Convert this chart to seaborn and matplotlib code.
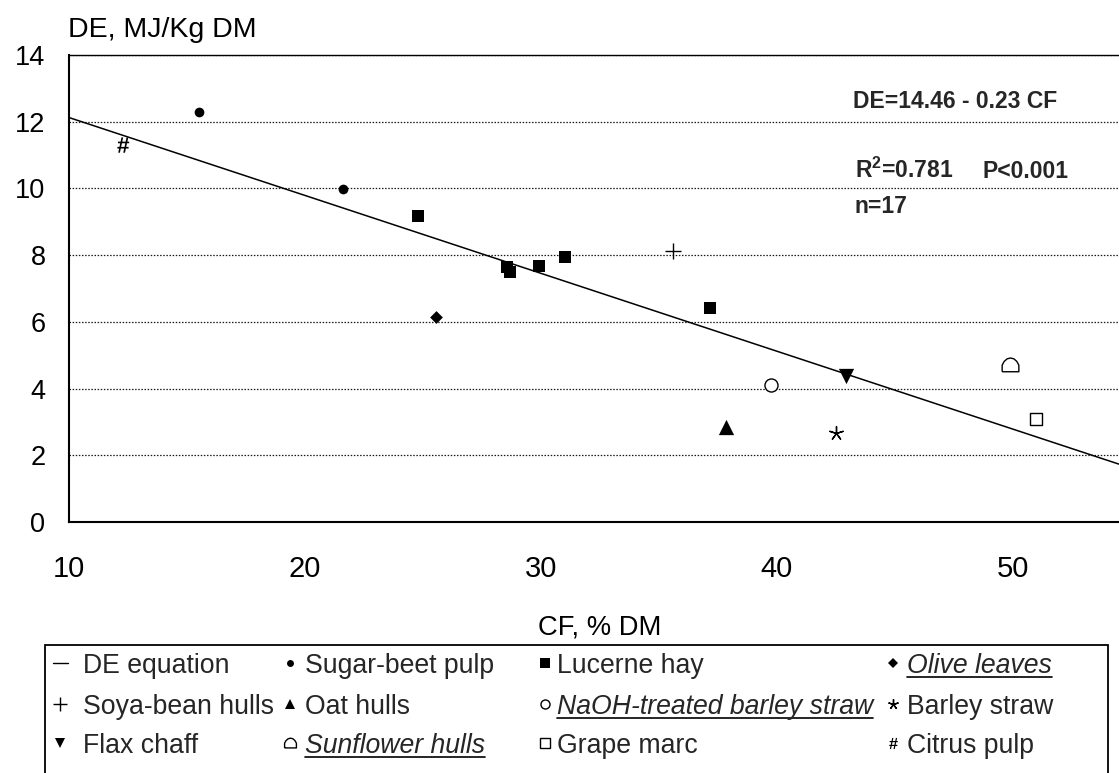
import numpy as np
import pandas as pd
import matplotlib
matplotlib.use("Agg")
import matplotlib.pyplot as plt
import seaborn as sns
from matplotlib.lines import Line2D
from matplotlib.patches import Rectangle
from matplotlib import font_manager

# ---------------- data ----------------
cf_sugar_beet = [15.5, 21.6]
de_sugar_beet = [12.30, 9.97]
cf_lucerne = [24.8, 28.55, 28.7, 29.9, 31.0, 37.15]
de_lucerne = [9.18, 7.63, 7.50, 7.67, 7.95, 6.42]
cf_olive = [25.55]
de_olive = [6.15]
cf_soya = [35.6]
de_soya = [8.13]
cf_oat = [37.85]
de_oat = [2.84]
cf_naoh = [39.75]
de_naoh = [4.11]
cf_barley = [42.5]
de_barley = [2.66]
cf_flax = [42.95]
de_flax = [4.38]
cf_sunflower = [49.9]
de_sunflower = [4.71]
cf_grape = [51.0]
de_grape = [3.08]
cf_citrus = [12.3]
de_citrus = [11.30]

eq_intercept = 14.46
eq_slope = -0.2335

x_limits = (10, 54.5)
y_limits = (0, 14)
y_ticks = [0, 2, 4, 6, 8, 10, 12, 14]
x_ticks = [10, 20, 30, 40, 50]

# ---------------- style ----------------
sns.set_theme(style="white")
plt.rcParams["font.family"] = ["Liberation Sans", "DejaVu Sans"]

names = {f.name for f in font_manager.fontManager.ttflist}
if "Liberation Sans Narrow" in names:
    bold_family = ["Liberation Sans Narrow", "Liberation Sans"]
    bold_size = 19.5
else:
    bold_family = ["Liberation Sans", "DejaVu Sans"]
    bold_size = 16.5
plt.rcParams["mathtext.fontset"] = "custom"
plt.rcParams["mathtext.rm"] = bold_family[0] + ":bold"
plt.rcParams["mathtext.bf"] = bold_family[0] + ":bold"

W, H = 1119, 773
fig = plt.figure(figsize=(W / 100, H / 100), dpi=100)
fig.patch.set_facecolor("white")


def fx(x):
    return x / W


def fy(y):
    return 1 - y / H


ax = fig.add_axes([fx(69), fy(522), fx(1119) - fx(69), fy(55) - fy(522)])
ax.set_facecolor("white")

house = [(-1, -0.75), (1, -0.75), (1, 0.05), (0.75, 0.5), (0.4, 0.8), (0, 0.9),
         (-0.4, 0.8), (-0.75, 0.5), (-1, 0.05), (-1, -0.75)]

groups = [
    # label, cf, de, marker, size(pt), face, edge, lw, legend size, italic
    ("Sugar-beet pulp", cf_sugar_beet, de_sugar_beet, "o", 7.0, "black", "black", 0, 5.0, False),
    ("Lucerne hay", cf_lucerne, de_lucerne, "s", 9.0, "black", "black", 0, 7.0, False),
    ("Olive leaves", cf_olive, de_olive, "D", 6.5, "black", "black", 0, 5.0, True),
    ("Soya-bean hulls", cf_soya, de_soya, "+", 11.0, "black", None, 1.0, 10.0, False),
    ("Oat hulls", cf_oat, de_oat, "^", 11.0, "black", "black", 0, 7.5, False),
    ("NaOH-treated barley straw", cf_naoh, de_naoh, "o", 9.4, "white", "black", 1.0, 6.5, True),
    ("Barley straw", cf_barley, de_barley, (5, 2, 0), 10.0, "black", None, 1.0, 7.5, False),
    ("Flax chaff", cf_flax, de_flax, "v", 11.0, "black", "black", 0, 7.5, False),
    ("Sunflower hulls", cf_sunflower, de_sunflower, house, 12.0, "white", "black", 1.0, 8.5, True),
    ("Grape marc", cf_grape, de_grape, "s", 8.5, "white", "black", 1.0, 6.5, False),
    ("Citrus pulp", cf_citrus, de_citrus, r"$\#$", 11.0, "black", "none", 0, 8.0, False),
]

# regression line
line_cf = np.array(x_limits, dtype=float)
line_de = eq_intercept + eq_slope * line_cf
sns.lineplot(x=line_cf, y=line_de, ax=ax, color="black", lw=1.1, zorder=2)

for label, cf, de, mk, size, face, edge, lw, _, _ in groups:
    kws = dict(marker=mk, s=size ** 2, zorder=3, legend=False, ax=ax)
    if edge is None:
        sns.scatterplot(x=cf, y=de, color=face, linewidth=lw, **kws)
    else:
        sns.scatterplot(x=cf, y=de, facecolor=face, edgecolor=edge, linewidth=lw, **kws)

ax.set_xlim(*x_limits)
ax.set_ylim(*y_limits)
ax.set_xticks(x_ticks)
ax.set_yticks(y_ticks)
ax.set_xticklabels([str(v) for v in x_ticks], fontsize=21)
ax.set_yticklabels([str(v) for v in y_ticks], fontsize=19.5)
ax.tick_params(axis="both", length=0, colors="black")
ax.tick_params(axis="x", pad=24)
ax.tick_params(axis="y", pad=17)
ax.yaxis.grid(True, linestyle=(0, (1.2, 1.3)), color="#1a1a1a", lw=0.9)
ax.xaxis.grid(False)
ax.set_axisbelow(True)
for side in ["left", "bottom"]:
    ax.spines[side].set_color("black")
    ax.spines[side].set_linewidth(1.5)
ax.spines["top"].set_color("black")
ax.spines["top"].set_linewidth(1.0)
ax.spines["right"].set_visible(False)
ax.set_xlabel("")
ax.set_ylabel("")

# axis titles
fig.text(fx(68), fy(37), "DE, MJ/Kg DM", fontsize=20.5, ha="left", va="baseline", color="black")
fig.text(fx(600), fy(634), "CF, % DM", fontsize=19.7, ha="center", va="baseline", color="black")

# equation annotation
fig.text(fx(853), fy(108), "DE=14.46 - 0.23 CF", family=bold_family, weight="bold",
         fontsize=bold_size, ha="left", va="baseline")
fig.text(fx(855), fy(178), r"R$^{\mathbf{2}}$=0.781", family=bold_family, weight="bold",
         fontsize=bold_size, ha="left", va="baseline")
fig.text(fx(983), fy(178), "P<0.001", family=bold_family, weight="bold",
         fontsize=bold_size, ha="left", va="baseline")
fig.text(fx(855), fy(213), "n=17", family=bold_family, weight="bold",
         fontsize=bold_size, ha="left", va="baseline")

# legend (manual, Excel-like grid)
fig.add_artist(Rectangle((fx(45), fy(800)), fx(1108) - fx(45), fy(645) - fy(800),
                         transform=fig.transFigure, fill=False, edgecolor="black", lw=1.3))
col_marker_x = [60, 290, 545, 893]
col_text_x = [83, 305, 557, 907]
row_center_y = [663, 704, 743]
row_base_y = [673, 714, 753]
leg_fs = 19.2

entries = [("DE equation", None)] + [(g[0], g) for g in groups]
italic_texts = []
for i, (label, g) in enumerate(entries):
    r, c = divmod(i, 4)
    mx, my = col_marker_x[c], row_center_y[r]
    if g is None:
        fig.add_artist(Line2D([fx(53), fx(68)], [fy(my), fy(my)], transform=fig.transFigure,
                              color="black", lw=1.0))
        italic = False
    else:
        _, _, _, mk, _, face, edge, lw, lsize, italic = g
        if edge is None:
            fig.add_artist(Line2D([fx(mx)], [fy(my)], transform=fig.transFigure, marker=mk,
                                  markersize=lsize, color=face, markeredgewidth=max(lw, 0.8),
                                  linestyle="none"))
        else:
            fig.add_artist(Line2D([fx(mx)], [fy(my)], transform=fig.transFigure, marker=mk,
                                  markersize=lsize, markerfacecolor=face,
                                  markeredgecolor=edge, markeredgewidth=lw,
                                  linestyle="none"))
    t = fig.text(fx(col_text_x[c]), fy(row_base_y[r]), label, fontsize=leg_fs,
                 ha="left", va="baseline", style="italic" if italic else "normal")
    if italic:
        italic_texts.append((t, row_base_y[r]))

fig.canvas.draw()
renderer = fig.canvas.get_renderer()
for t, base in italic_texts:
    bb = t.get_window_extent(renderer)
    uy = fy(base + 4)
    fig.add_artist(Line2D([bb.x0 / W, bb.x1 / W], [uy, uy], transform=fig.transFigure,
                          color="black", lw=1.2))

fig.savefig("out.png", dpi=100, facecolor="white")
